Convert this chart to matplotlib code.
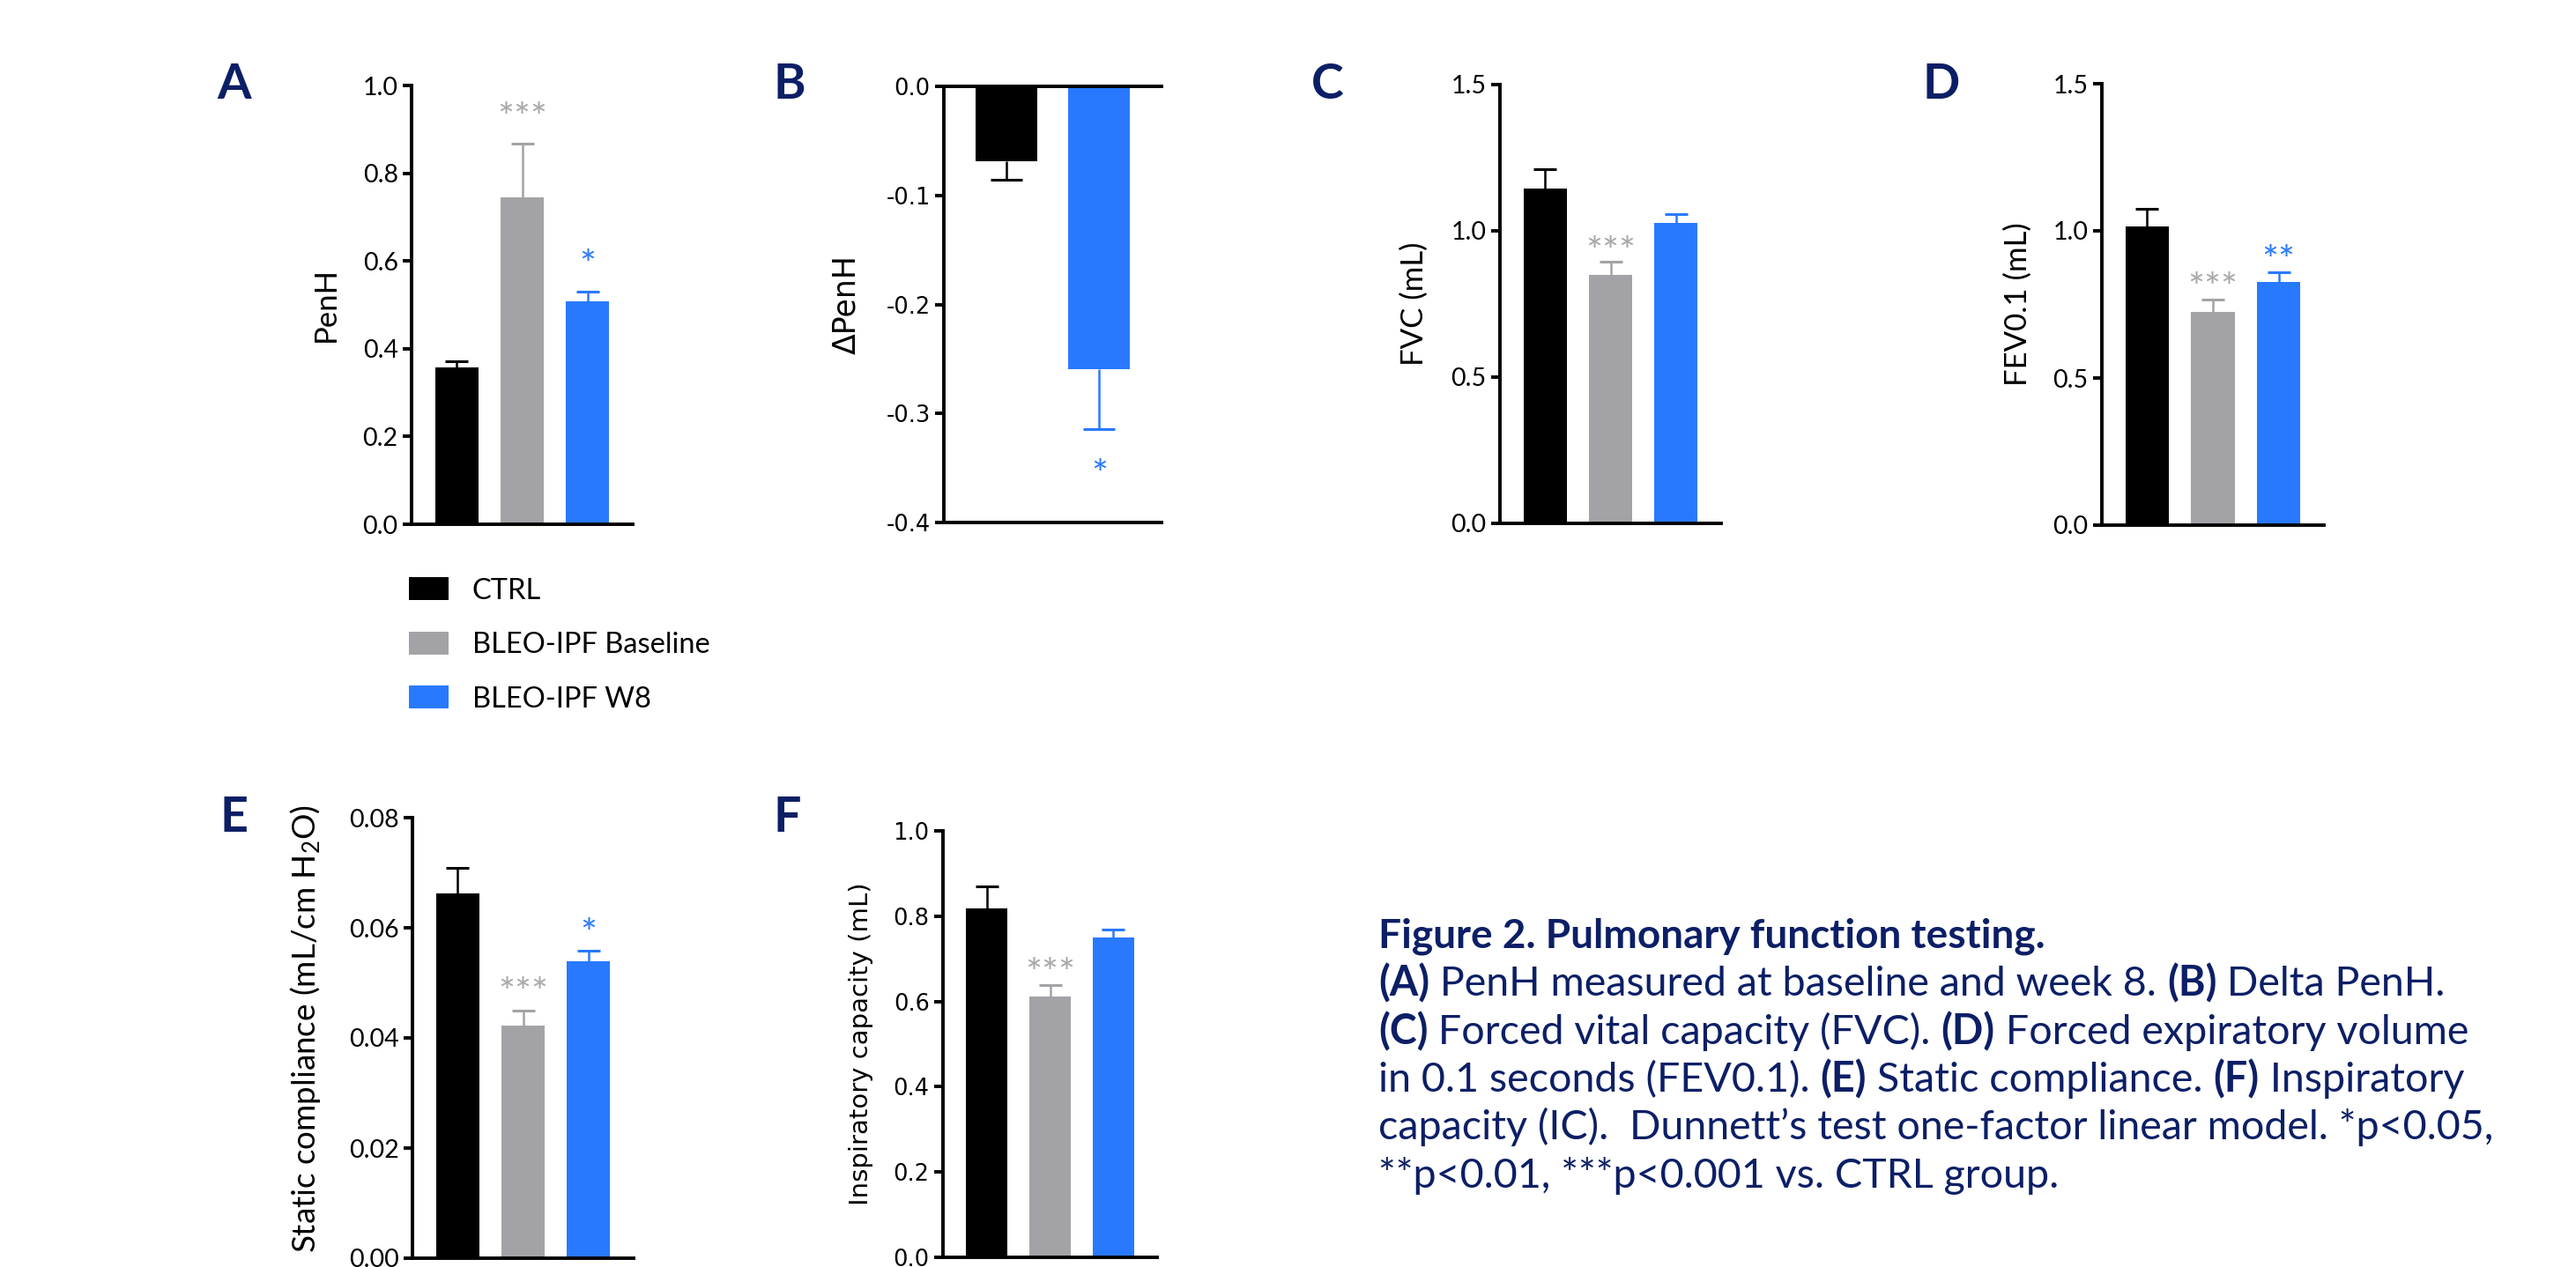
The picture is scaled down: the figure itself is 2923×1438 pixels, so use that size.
import matplotlib
matplotlib.use("Agg")
import matplotlib.pyplot as plt
import numpy as np
from matplotlib.transforms import IdentityTransform
from matplotlib.font_manager import FontProperties
from matplotlib.ticker import FormatStrFormatter
from matplotlib.patches import Patch

plt.rcParams["font.family"] = ["Lato", "DejaVu Sans"]
plt.rcParams["axes.unicode_minus"] = False
plt.rcParams["mathtext.fontset"] = "custom"
plt.rcParams["mathtext.rm"] = "Lato"
plt.rcParams["mathtext.default"] = "regular"

# ---- data ----
groups = ["CTRL", "BLEO-IPF Baseline", "BLEO-IPF W8"]
colors = ["#000000", "#a3a3a7", "#2979ff"]
star_colors = ["#000000", "#a8a8ac", "#2979ff"]

penh_mean = [0.357, 0.745, 0.509]
penh_sem = [0.014, 0.122, 0.022]
penh_stars = ["", "***", "*"]

dpenh_groups = ["CTRL", "BLEO-IPF W8"]
dpenh_mean = [-0.069, -0.259]
dpenh_sem = [0.017, 0.055]
dpenh_stars = ["", "*"]

fvc_mean = [1.144, 0.849, 1.027]
fvc_sem = [0.066, 0.045, 0.031]
fvc_stars = ["", "***", ""]

fev_mean = [1.015, 0.726, 0.827]
fev_sem = [0.060, 0.041, 0.032]
fev_stars = ["", "***", "**"]

cst_mean = [0.0662, 0.0422, 0.0540]
cst_sem = [0.0047, 0.0028, 0.0018]
cst_stars = ["", "***", "*"]

ic_mean = [0.819, 0.611, 0.750]
ic_sem = [0.051, 0.028, 0.019]
ic_stars = ["", "***", ""]

caption_title = "Figure 2. Pulmonary function testing."
caption_lines = [
    [("(A)", True), (" PenH measured at baseline and week 8. ", False), ("(B)", True), (" Delta PenH.", False)],
    [("(C)", True), (" Forced vital capacity (FVC). ", False), ("(D)", True), (" Forced expiratory volume", False)],
    [("in 0.1 seconds (FEV0.1). ", False), ("(E)", True), (" Static compliance. ", False), ("(F)", True), (" Inspiratory", False)],
    [("capacity (IC).  Dunnett\u2019s test one-factor linear model. *p<0.05,", False)],
    [("**p<0.01, ***p<0.001 vs. CTRL group.", False)],
]

NAVY = "#0c1f66"
W, H = 2923, 1438
fig = plt.figure(figsize=(W / 100, H / 100), dpi=100)


def px_axes(l, r, t, b):
    return fig.add_axes([l / W, 1 - b / H, (r - l) / W, (b - t) / H])


panels = [
    dict(letter="A", lpos=(246, 112), box=(467, 718, 97, 595), mean=penh_mean, sem=penh_sem,
         stars=penh_stars, cols=colors, ylim=(0, 1.0), ticks=[0, 0.2, 0.4, 0.6, 0.8, 1.0], fmt="%.1f",
         ylabel="PenH", lab_x=-0.385, fam="Lato", tsize=20.5, lsize=25, soff=0.083, cap=9.5),
    dict(letter="B", lpos=(877, 112), box=(1071, 1318, 98, 593), mean=dpenh_mean, sem=dpenh_sem,
         stars=dpenh_stars, cols=[colors[0], colors[2]], ylim=(-0.4, 0), ticks=[-0.4, -0.3, -0.2, -0.1, 0.0],
         fmt="%.1f", ylabel="\u0394PenH", lab_x=-0.449, fam="DejaVu Sans", tsize=18.5, lsize=25,
         soff=0.083, cap=13),
    dict(letter="C", lpos=(1488, 112), box=(1702, 1953, 96, 594), mean=fvc_mean, sem=fvc_sem,
         stars=fvc_stars, cols=colors, ylim=(0, 1.5), ticks=[0, 0.5, 1.0, 1.5], fmt="%.1f",
         ylabel="FVC (mL)", lab_x=-0.389, fam="Lato", tsize=20.5, lsize=25, soff=0.047, cap=9.5),
    dict(letter="D", lpos=(2181, 112), box=(2385, 2637, 95, 596), mean=fev_mean, sem=fev_sem,
         stars=fev_stars, cols=colors, ylim=(0, 1.5), ticks=[0, 0.5, 1.0, 1.5], fmt="%.1f",
         ylabel="FEV0.1 (mL)", lab_x=-0.378, fam="Lato", tsize=20.5, lsize=25, soff=0.049, cap=9.5),
    dict(letter="E", lpos=(250, 944), box=(468, 719, 928, 1428), mean=cst_mean, sem=cst_sem,
         stars=cst_stars, cols=colors, ylim=(0, 0.08), ticks=[0, 0.02, 0.04, 0.06, 0.08], fmt="%.2f",
         ylabel="Static compliance (mL/cm H$_2$O)", lab_x=-0.484, fam="Lato", tsize=20.5, lsize=26.5,
         soff=0.063, cap=9.5, lab_top=1.029),
    dict(letter="F", lpos=(877, 944), box=(1070, 1313, 943, 1427), mean=ic_mean, sem=ic_sem,
         stars=ic_stars, cols=colors, ylim=(0, 1.0), ticks=[0, 0.2, 0.4, 0.6, 0.8, 1.0], fmt="%.1f",
         ylabel="Inspiratory capacity (mL)", lab_x=-0.382, fam="DejaVu Sans", tsize=18.5, lsize=21,
         soff=0.051, cap=9.5),
]

STAR_SIZE = 32

for p in panels:
    ax = px_axes(*p["box"])
    n = len(p["mean"])
    x = np.arange(n)
    ax.bar(x, p["mean"], width=0.66, color=p["cols"], linewidth=0, zorder=2)
    span = p["ylim"][1] - p["ylim"][0]
    for xi, m, s, c, st in zip(x, p["mean"], p["sem"], p["cols"], p["stars"]):
        if m >= 0:
            yerr = [[0], [s]]
        else:
            yerr = [[s], [0]]
        eb = ax.errorbar([xi], [m], yerr=yerr, fmt="none", ecolor=c, elinewidth=1.8,
                         capsize=p["cap"], capthick=2.2, zorder=3)
        for capline in eb[1]:
            if np.isclose(capline.get_ydata()[0], m):
                capline.set_visible(False)
        if st:
            sc = star_colors[colors.index(c)]
            tip = m + s if m >= 0 else m - s
            yc = tip + p["soff"] * span if m >= 0 else tip - p["soff"] * span
            ax.annotate(st, (xi, yc), xytext=(0, -0.58 * STAR_SIZE), textcoords="offset points",
                        ha="center", va="baseline", fontsize=STAR_SIZE, color=sc, family="Lato")

    if p["letter"] == "B":
        ax.set_xlim(-0.67, 1.67)
        ax.spines["right"].set_visible(False)
    else:
        ax.set_xlim(-0.69, 2.69)
        ax.spines[["top", "right"]].set_visible(False)
    for sp in ax.spines.values():
        sp.set_linewidth(2.8)
    ax.set_ylim(*p["ylim"])
    ax.set_yticks(p["ticks"])
    ax.yaxis.set_major_formatter(FormatStrFormatter(p["fmt"]))
    ax.set_xticks([])
    ax.tick_params(axis="y", width=2.8, length=7, direction="out", labelsize=p["tsize"], pad=4,
                   labelfontfamily=p["fam"])
    if "lab_top" in p:
        ax.set_ylabel(p["ylabel"], fontsize=p["lsize"], family=p["fam"], va="center", ha="right")
        ax.yaxis.set_label_coords(p["lab_x"], p["lab_top"])
    else:
        ax.set_ylabel(p["ylabel"], fontsize=p["lsize"], family=p["fam"], va="center")
        ax.yaxis.set_label_coords(p["lab_x"], 0.5)
    ax.set_facecolor("none")

    fig.text(p["lpos"][0], H - p["lpos"][1], p["letter"], transform=IdentityTransform(),
             fontsize=40, fontweight="bold", color=NAVY, family="Lato", ha="left", va="baseline")

# legend
handles = [Patch(facecolor=c, linewidth=0, label=g) for g, c in zip(groups, colors)]
fig.legend(handles=handles, loc="upper left", bbox_to_anchor=(464 / W, 1 - 655 / H), frameon=False,
           prop={"family": "Lato", "size": 23.5}, handlelength=1.38, handleheight=0.87,
           handletextpad=0.82, labelspacing=0.95, borderpad=0, borderaxespad=0)

# caption
renderer = fig.canvas.get_renderer()


def tw(s, size, bold):
    fp = FontProperties(family="Lato", size=size, weight="bold" if bold else "normal")
    w1 = renderer.get_text_width_height_descent("|" + s + "|", fp, ismath=False)[0]
    w0 = renderer.get_text_width_height_descent("||", fp, ismath=False)[0]
    return w1 - w0


def line_width(pieces, size):
    return sum(tw(s, size, b) for s, b in pieces)


body_size = 28 * 1240 / line_width(caption_lines[1], 28)
title_size = 28 * 757 / tw(caption_title, 28, True)
x0 = 1564
baselines = [1075, 1130, 1185, 1239, 1293, 1348]

fig.text(x0, H - baselines[0], caption_title, transform=IdentityTransform(), fontsize=title_size,
         fontweight="bold", color=NAVY, family="Lato", ha="left", va="baseline")
for yb, pieces in zip(baselines[1:], caption_lines):
    xc = x0
    for s, b in pieces:
        fig.text(xc, H - yb, s, transform=IdentityTransform(), fontsize=body_size,
                 fontweight="bold" if b else "normal", color=NAVY, family="Lato",
                 ha="left", va="baseline")
        xc += tw(s, body_size, b)

fig.savefig("out.png", dpi=100)
